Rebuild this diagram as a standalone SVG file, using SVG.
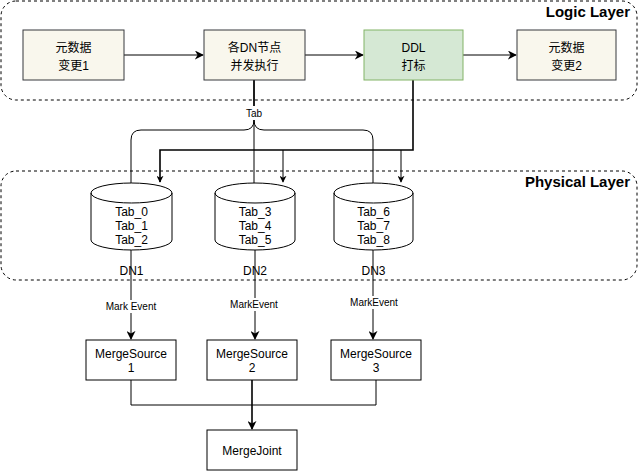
<svg xmlns="http://www.w3.org/2000/svg" width="639" height="471" viewBox="0 0 639 471">
<style>
text{font-family:"Liberation Sans","Noto Sans CJK SC",sans-serif;font-size:12px;fill:#000;text-anchor:middle}
.lay{fill:none;stroke:#000;stroke-dasharray:3 3;stroke-width:1}
.lt{font-size:15px;font-weight:bold;text-anchor:end}
.beige{fill:#f9f7ed;stroke:#36393d;stroke-width:1}
.green{fill:#d5e8d4;stroke:#82b366;stroke-width:1}
.plain{fill:#fff;stroke:#000;stroke-width:1}
.e{fill:none;stroke:#000;stroke-width:1}
.e2{fill:none;stroke:#000;stroke-width:1.6}
.small{font-size:10px}
</style>
<defs>
<marker id="ar" viewBox="0 0 10 10" refX="9" refY="5" markerWidth="7" markerHeight="7" markerUnits="userSpaceOnUse" orient="auto">
<path d="M0,0 L10,5 L0,10 L3,5 Z" fill="#000"/>
</marker>
<marker id="ar2" viewBox="0 0 10 10" refX="9" refY="5" markerWidth="9" markerHeight="9" markerUnits="userSpaceOnUse" orient="auto">
<path d="M0,0 L10,5 L0,10 L3,5 Z" fill="#000"/>
</marker>
</defs>
<g id="logic-layer">
<rect class="lay" x="1" y="1" width="636" height="99" rx="15"/>
<text class="lt" x="630" y="17">Logic Layer</text>
</g>
<g id="physical-layer">
<rect class="lay" x="1" y="171" width="636" height="109" rx="15"/>
<text class="lt" x="630" y="187">Physical Layer</text>
</g>
<g id="connectors">
<path class="e" d="M124,55 H203" marker-end="url(#ar2)"/>
<path class="e" d="M305,55 H363" marker-end="url(#ar2)"/>
<path class="e" d="M463,55 H516" marker-end="url(#ar2)"/>
<path class="e" d="M254,80 V183"/>
<path class="e" d="M254,80 V120 Q254,130 244,130 H141 Q131,130 131,140 V184"/>
<path class="e" d="M254,80 V120 Q254,130 264,130 H363 Q373,130 373,140 V184"/>
<path class="e2" d="M413,80 V150 H160 V182" marker-end="url(#ar)"/>
<path class="e" d="M283,150 V182" marker-end="url(#ar)"/>
<path class="e" d="M401,150 V182" marker-end="url(#ar)"/>
<path class="e" d="M131,250 V339" marker-end="url(#ar2)"/>
<path class="e" d="M255,250 V339" marker-end="url(#ar2)"/>
<path class="e" d="M373,250 V339" marker-end="url(#ar2)"/>
<path class="e" d="M131,380 V405 H376 V380"/>
<path class="e2" d="M252,380 V429" marker-end="url(#ar2)"/>
<rect x="243" y="106" width="22" height="14" fill="#fff"/>
<text class="small" x="254" y="117">Tab</text>
<rect x="102" y="300" width="58" height="13" fill="#fff"/>
<text class="small" x="131" y="310">Mark Event</text>
<rect x="228" y="298" width="54" height="13" fill="#fff"/>
<text class="small" x="254" y="308">MarkEvent</text>
<rect x="347" y="296" width="54" height="13" fill="#fff"/>
<text class="small" x="374" y="306">MarkEvent</text>
</g>
<g id="meta1">
<rect class="beige" x="23" y="30" width="101" height="50"/>
<text x="73.5" y="52">元数据</text>
<text x="73.5" y="70">变更1</text>
</g>
<g id="exec">
<rect class="beige" x="204" y="30" width="101" height="50"/>
<text x="254.5" y="52">各DN节点</text>
<text x="254.5" y="70">并发执行</text>
</g>
<g id="ddl">
<rect class="green" x="364" y="30" width="99" height="50"/>
<text x="413.5" y="52">DDL</text>
<text x="413.5" y="70">打标</text>
</g>
<g id="meta2">
<rect class="beige" x="517" y="30" width="99" height="50"/>
<text x="566.5" y="52">元数据</text>
<text x="566.5" y="70">变更2</text>
</g>
<g id="dn1">
<path class="plain" d="M91,193 A40.5,10 0 0 1 172,193 V240 A40.5,10 0 0 1 91,240 Z"/>
<path class="e" d="M91,193 A40.5,10 0 0 0 172,193"/>
<text x="131.5" y="216">Tab_0</text>
<text x="131.5" y="230">Tab_1</text>
<text x="131.5" y="244">Tab_2</text>
<text x="131.5" y="275">DN1</text>
</g>
<g id="dn2">
<path class="plain" d="M215,193 A40,10 0 0 1 295,193 V240 A40,10 0 0 1 215,240 Z"/>
<path class="e" d="M215,193 A40,10 0 0 0 295,193"/>
<text x="255" y="216">Tab_3</text>
<text x="255" y="230">Tab_4</text>
<text x="255" y="244">Tab_5</text>
<text x="255" y="275">DN2</text>
</g>
<g id="dn3">
<path class="plain" d="M334,193 A39.5,10 0 0 1 413,193 V240 A39.5,10 0 0 1 334,240 Z"/>
<path class="e" d="M334,193 A39.5,10 0 0 0 413,193"/>
<text x="373.5" y="216">Tab_6</text>
<text x="373.5" y="230">Tab_7</text>
<text x="373.5" y="244">Tab_8</text>
<text x="373.5" y="275">DN3</text>
</g>
<g id="ms1">
<rect class="plain" x="86" y="340" width="90" height="40"/>
<text x="131" y="358">MergeSource</text>
<text x="131" y="372">1</text>
</g>
<g id="ms2">
<rect class="plain" x="207" y="340" width="90" height="40"/>
<text x="252" y="358">MergeSource</text>
<text x="252" y="372">2</text>
</g>
<g id="ms3">
<rect class="plain" x="331" y="340" width="90" height="40"/>
<text x="376" y="358">MergeSource</text>
<text x="376" y="372">3</text>
</g>
<g id="mj">
<rect class="plain" x="207" y="430" width="90" height="40"/>
<text x="252" y="455">MergeJoint</text>
</g>
</svg>
